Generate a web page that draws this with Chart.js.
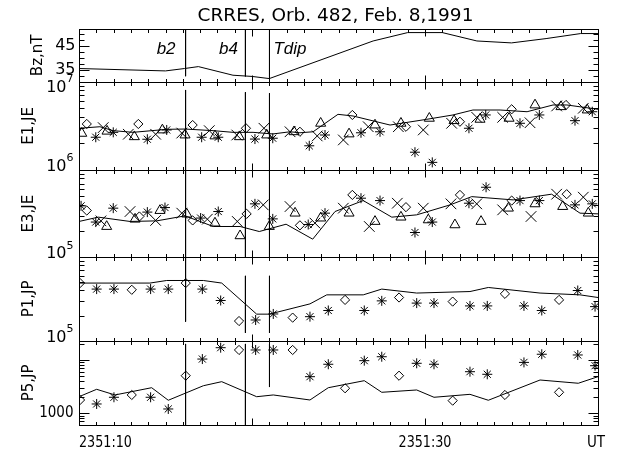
<!DOCTYPE html>
<html>
<head>
<meta charset="utf-8">
<script src="https://cdn.jsdelivr.net/npm/chart.js@4"></script>
<style>
  html, body { margin: 0; padding: 0; background: #fff; }
  canvas { display: block; }
</style>
</head>
<body>
<canvas id="chart" width="620" height="453"></canvas>
<script>
// time axis: seconds after 2351:00 UT
const xRange = [10, 40];
const xTickValues = [10, 30, 40];
const xTickLabels = ["2351:10", "2351:30", "UT"];
const chartTitle = "CRRES, Orb. 482, Feb. 8,1991";

const panelTitles = ["Bz,nT", "E1,JE", "E3,JE", "P1,JP", "P5,JP"];
const bzRange = [30, 52];
const e1Range = [1e6, 1e7];
const e3Range = [1e5, 1e6];
const p1Range = [1e5, 1e6];
const p5Range = [600, 23000];

const eventTimes = [16.16, 19.62, 21.01];
const eventNames = ["b2", "b4", "Tdip"];

// [time, value]
const bzLine = [[10,35.5],[15,34.5],[16.1,35.5],[16.9,36.3],[18.9,32.7],[20,32.2],[21,31.3],[27,47.0],[29,50.5],[31,50.5],[33,47.0],[35,46.2],[37,48.0],[39,50.1],[40,50.1]];

const e1Line = [[10,2.97e6],[11.21,3.09e6],[11.97,2.79e6],[13.12,2.67e6],[15.09,2.89e6],[16.13,2.91e6],[17.75,2.79e6],[18.9,2.67e6],[20.06,2.67e6],[21.21,2.56e6],[22.2,2.71e6],[22.77,2.64e6],[23.53,2.71e6],[24.97,4.27e6],[25.84,4.09e6],[27.98,3.23e6],[30.1,3.75e6],[31.62,4.2e6],[32.77,4.78e6],[34.34,4.78e6],[35.9,4.57e6],[37.4,5.45e6],[38.2,5.45e6],[40,4.87e6]];
const e1Diamond = [[10.45,3.32e6],[13.43,3.32e6],[16.57,3.23e6],[19.65,2.97e6],[22.77,2.71e6],[25.8,4.2e6],[28.9,3.09e6],[32.02,3.52e6],[35.01,4.87e6],[38.15,5.45e6]];
const e1Star = [[10.97,2.35e6],[11.98,2.67e6],[13.95,2.23e6],[15.07,2.84e6],[17.09,2.35e6],[18.05,2.35e6],[20.17,2.24e6],[21.2,2.29e6],[23.31,1.88e6],[24.22,2.49e6],[26.3,2.64e6],[27.4,2.71e6],[29.42,1.59e6],[30.42,1.22e6],[32.54,2.97e6],[33.51,4.2e6],[35.49,3.38e6],[36.61,4.2e6],[38.67,3.62e6],[39.67,4.57e6]];
const e1Cross = [[11.4,3.02e6],[12.85,2.54e6],[14.43,2.54e6],[15.94,2.62e6],[17.53,2.79e6],[19.12,2.49e6],[20.69,2.97e6],[22.2,2.71e6],[23.77,2.43e6],[25.28,2.19e6],[26.72,3.09e6],[28.46,3.09e6],[29.9,2.84e6],[31.54,3.38e6],[32.99,3.95e6],[34.49,3.95e6],[36.07,3.43e6],[37.61,5.31e6],[39.15,5.0e6]];
const e1Tri = [[10.16,2.6e6],[11.62,2.75e6],[13.2,2.38e6],[14.82,2.84e6],[16.13,2.49e6],[17.86,2.43e6],[19.27,2.38e6],[20.85,2.49e6],[22.43,2.71e6],[23.97,3.38e6],[25.61,2.56e6],[27.11,3.23e6],[28.61,3.38e6],[30.25,3.85e6],[31.68,3.62e6],[33.18,3.75e6],[34.86,3.85e6],[36.36,5.45e6],[37.86,5.21e6],[39.38,4.78e6]];

const e3Line = [[10,2.57e5],[11.12,2.88e5],[12.95,2.57e5],[14.49,2.61e5],[16.13,2.98e5],[17.76,2.25e5],[19.31,2.25e5],[20.42,1.97e5],[21.97,2.39e5],[23.51,1.61e5],[24.8,3.34e5],[26.43,4.46e5],[28.08,2.88e5],[29.52,3.06e5],[31.45,3.98e5],[32.7,4.95e5],[35.1,4.54e5],[37.32,5.28e5],[38.96,3.2e5],[40,3.14e5]];
const e3Diamond = [[10.45,3.43e5],[13.49,2.93e5],[16.57,2.64e5],[19.69,3.14e5],[22.77,2.32e5],[25.8,5.18e5],[28.9,3.75e5],[32.02,5.18e5],[35.01,4.46e5],[38.19,5.28e5]];
const e3Star = [[10.12,3.88e5],[10.97,2.53e5],[11.98,3.65e5],[13.95,3.29e5],[14.97,3.71e5],[17.03,2.81e5],[18.05,3.34e5],[20.17,4.09e5],[21.2,2.75e5],[23.25,2.37e5],[24.22,3.2e5],[26.3,4.75e5],[27.4,4.46e5],[29.42,1.92e5],[30.42,2.53e5],[32.54,4.16e5],[33.53,6.34e5],[35.49,4.46e5],[36.61,4.46e5],[38.67,3.98e5],[39.67,4.09e5]];
const e3Cross = [[11.27,2.61e5],[12.95,3.34e5],[14.43,2.64e5],[15.94,3.2e5],[17.42,2.73e5],[19.15,2.57e5],[20.65,3.98e5],[22.2,3.81e5],[23.64,2.46e5],[25.28,3.65e5],[26.78,2.25e5],[28.4,4.16e5],[29.9,3.65e5],[31.5,4.09e5],[32.99,4.09e5],[34.49,3.49e5],[36.13,2.93e5],[37.61,5.28e5],[39.15,4.88e5]];
const e3Tri = [[11.6,2.25e5],[13.24,2.73e5],[14.68,3.43e5],[16.23,3.12e5],[17.86,2.46e5],[19.31,1.76e5],[21.0,2.25e5],[22.49,3.2e5],[23.97,2.81e5],[25.61,3.2e5],[27.11,2.57e5],[28.61,2.88e5],[30.19,2.68e5],[31.73,2.35e5],[33.24,2.57e5],[34.82,3.65e5],[36.36,4.09e5],[37.96,3.81e5],[39.44,3.2e5]];

const p1Line = [[10,4.9e5],[14.1,4.9e5],[15.07,5.26e5],[17.19,5.26e5],[18.25,4.9e5],[20.27,2.08e5],[21.0,2.08e5],[23.35,2.76e5],[24.32,3.54e5],[26.43,3.54e5],[27.5,4.15e5],[29.52,3.72e5],[32.6,3.88e5],[33.66,4.34e5],[36.65,3.72e5],[38.96,3.54e5],[40,3.29e5]];
const p1Star = [[11.02,4.15e5],[12.02,4.15e5],[14.14,4.15e5],[15.16,4.15e5],[17.13,4.15e5],[18.19,3.03e5],[20.21,1.77e5],[21.23,2.09e5],[23.35,1.94e5],[24.41,2.3e5],[26.49,2.3e5],[27.5,3.0e5],[29.52,2.82e5],[30.52,2.82e5],[32.6,2.61e5],[33.6,2.61e5],[35.72,2.61e5],[36.75,2.3e5],[38.83,3.99e5],[39.83,2.56e5]];
const p1Diamond = [[10.06,4.9e5],[13.05,4.07e5],[16.17,4.9e5],[19.25,1.72e5],[22.35,1.89e5],[25.38,3.08e5],[28.5,3.29e5],[31.6,2.94e5],[34.62,3.64e5],[37.75,3.08e5]];

const p5Line = [[10,2040],[11.02,2810],[12.08,2200],[14.2,3010],[15.16,1750],[17.19,3280],[18.25,3910],[20.27,2040],[21.23,2200],[23.35,1770],[24.41,3010],[26.49,4080],[27.5,2470],[29.52,2730],[30.52,1990],[32.6,2260],[33.66,1750],[36.65,4200],[38.86,3650],[40,4850]];
const p5Star = [[11.02,1490],[12.02,1990],[14.14,1990],[15.16,1200],[17.13,10400],[18.19,17000],[20.21,15400],[21.23,15400],[23.35,4850],[24.41,8300],[26.49,9700],[27.5,11500],[29.52,8660],[30.52,8300],[32.6,6020],[33.6,5380],[35.72,9000],[36.75,12800],[38.83,12400],[39.83,7800]];
const p5Diamond = [[10.06,1770],[13.05,2200],[16.17,5060],[19.25,15400],[22.35,15400],[25.38,2940],[28.5,5060],[31.6,1720],[34.62,2200],[37.75,2470]];

// vertical event markers, drawn piecewise in each panel: [from, to] in panel units
const b2Spans = { yBz: [52, 32.3], yE1: [8.06e6, 1e6], yE3: [1e6, 1e5], yP1: [1e6, 1.69e5], yP5: [20000, 600] };
const b4Spans = { yBz: [52, 32.2], yE1: [7.6e6, 1e6], yE3: [1e6, 1e5], yP1: [5.98e5, 1.24e5], yP5: [20000, 600] };
const tdipSpans = { yBz: [52, 31.3], yE1: [7.4e6, 1e6], yE3: [1e6, 1e5], yP1: [5.98e5, 1.24e5], yP5: [20000, 3100] };
const eventSpans = [b2Spans, b4Spans, tdipSpans];

const yTickLabels = [
    ["yBz", 45, "45"], ["yBz", 35, "35"],
    ["yE1", 1e7, "10", "7"], ["yE1", 1e6, "10", "6"],
    ["yE3", 1e5, "10", "5"],
    ["yP1", 1e5, "10", "5"],
    ["yP5", 1000, "1000"]
];

const panelAxes = ["yBz", "yE1", "yE3", "yP1", "yP5"];

function pts(arr) {
    return arr.map(([x, y]) => ({ x, y }));
}

function lineSet(data, axis) {
    return {
        data: pts(data), yAxisID: axis, showLine: true,
        borderColor: "#000", borderWidth: 1, pointRadius: 0, tension: 0, fill: false
    };
}

function markSet(data, axis, style, r) {
    return {
        data: pts(data), yAxisID: axis, showLine: false,
        pointStyle: style, pointRadius: r, borderColor: "#000",
        backgroundColor: "rgba(0,0,0,0)", borderWidth: 1
    };
}

const datasets = [
    lineSet(bzLine, "yBz"),
    lineSet(e1Line, "yE1"),
    markSet(e1Diamond, "yE1", "rectRot", 4.6),
    markSet(e1Star, "yE1", "star", 5),
    markSet(e1Cross, "yE1", "crossRot", 7.5),
    markSet(e1Tri, "yE1", "triangle", 5.8),
    lineSet(e3Line, "yE3"),
    markSet(e3Diamond, "yE3", "rectRot", 4.6),
    markSet(e3Star, "yE3", "star", 5),
    markSet(e3Cross, "yE3", "crossRot", 7.5),
    markSet(e3Tri, "yE3", "triangle", 5.8),
    lineSet(p1Line, "yP1"),
    markSet(p1Star, "yP1", "star", 5),
    markSet(p1Diamond, "yP1", "rectRot", 4.6),
    lineSet(p5Line, "yP5"),
    markSet(p5Star, "yP5", "star", 5),
    markSet(p5Diamond, "yP5", "rectRot", 4.6)
];

eventTimes.forEach((t, i) => {
    Object.entries(eventSpans[i]).forEach(([axis, [a, b]]) => {
        datasets.push(lineSet([[t, a], [t, b]], axis));
    });
});

function hidden(extra) {
    return Object.assign({
        display: true,
        ticks: { display: false },
        grid: { display: false, drawTicks: false },
        border: { display: false }
    }, extra);
}

function yScale(type, range, size, order) {
    return hidden({
        type, min: range[0], max: range[1], position: "left",
        stack: "panels", stackWeight: size, weight: order
    });
}

function tickList(s) {
    const out = [];
    if (s.type === "linear") {
        for (let v = 30; v <= 52; v += 2.5) out.push([v, v === 35 || v === 45]);
        return out;
    }
    const lo = Math.floor(Math.log10(s.min)), hi = Math.ceil(Math.log10(s.max));
    for (let e = lo; e <= hi; e++) {
        for (let m = 1; m <= 9; m++) {
            const v = m * Math.pow(10, e);
            if (v >= s.min * 0.999 && v <= s.max * 1.001) out.push([v, m === 1]);
        }
    }
    return out;
}

function txt(c, s, x, y, font, align, sx) {
    c.save();
    c.font = font;
    c.textAlign = align;
    c.textBaseline = "middle";
    c.translate(x, y);
    c.scale(sx, 1);
    c.fillText(s, 0, 0);
    c.restore();
}

const idlFrame = {
    id: "idlFrame",
    afterDatasetsDraw(chart) {
        const c = chart.ctx;
        const xs = chart.scales.x;
        const left = chart.chartArea.left, right = chart.chartArea.right;
        const px = v => Math.round(v) + 0.5;
        const seg = (x1, y1, x2, y2) => {
            c.beginPath();
            c.moveTo(x1, y1);
            c.lineTo(x2, y2);
            c.stroke();
        };
        c.save();
        c.strokeStyle = "#000";
        c.fillStyle = "#000";
        c.lineWidth = 1;

        panelAxes.forEach((id, k) => {
            const s = chart.scales[id];
            const top = px(s.top), bot = px(s.bottom);
            c.strokeRect(px(left), top, px(right) - px(left), bot - top);
            for (let t = xRange[0]; t <= xRange[1]; t++) {
                const x = px(xs.getPixelForValue(t));
                const len = t % 10 === 0 ? 7 : 3.5;
                seg(x, top, x, top + len);
                seg(x, bot, x, bot - len);
            }
            tickList(s).forEach(([v, major]) => {
                const y = px(s.getPixelForValue(v));
                const len = major ? 10 : 5;
                seg(px(left), y, px(left) + len, y);
                seg(px(right), y, px(right) - len, y);
            });
            // panel title, rotated
            c.save();
            c.translate(k === 0 ? left - 41 : left - 50, (s.top + s.bottom) / 2);
            c.rotate(-Math.PI / 2);
            c.font = '15px "DejaVu Sans"';
            c.textAlign = "center";
            c.textBaseline = "middle";
            c.fillText(panelTitles[k], 0, 0);
            c.restore();
        });

        // y tick labels
        const xr = left - 5.5;
        yTickLabels.forEach(([id, v, base, sup]) => {
            const s = chart.scales[id];
            const y = s.getPixelForValue(v);
            if (!sup) {
                if (base.length > 2) txt(c, base, xr, y, '15px "DejaVu Sans"', "right", 0.9);
                else txt(c, base, xr + 2, y, '16px "DejaVu Sans"', "right", 1);
                return;
            }
            const dy = Math.abs(y - s.top) < 1 ? 6 : -3;
            c.font = '11px "DejaVu Sans"';
            const w2 = c.measureText(sup).width;
            txt(c, sup, xr - w2, y + dy - 8.5, '11px "DejaVu Sans"', "left", 1);
            txt(c, base, xr - w2, y + dy, '16px "DejaVu Sans"', "right", 1);
        });

        // x tick labels
        const yb = chart.scales.yP5.bottom + 18;
        xTickValues.forEach((v, i) => {
            const x = xs.getPixelForValue(v);
            if (i === 0) txt(c, xTickLabels[i], x, yb, '15px "DejaVu Sans"', "left", 0.85);
            else if (i === xTickValues.length - 1) txt(c, xTickLabels[i], x - 2, yb, '15px "DejaVu Sans"', "center", 0.9);
            else txt(c, xTickLabels[i], x, yb, '15px "DejaVu Sans"', "center", 0.85);
        });

        // title
        c.font = '18.5px "DejaVu Sans"';
        c.textAlign = "center";
        c.textBaseline = "alphabetic";
        c.fillText(chartTitle, (left + right) / 2 - 3, 20.5);

        // event names
        c.font = 'italic 17px "Liberation Sans"';
        eventTimes.forEach((t, i) => {
            const x = xs.getPixelForValue(t);
            if (i < 2) {
                c.textAlign = "right";
                c.fillText(eventNames[i], x - (i === 0 ? 10 : 7.5), 53.5);
            } else {
                c.textAlign = "left";
                c.fillText(eventNames[i], x + 4, 53.5);
            }
        });
        c.restore();
    }
};

const chart = new Chart(document.getElementById("chart"), {
    type: "scatter",
    data: { datasets },
    options: {
        responsive: false,
        animation: false,
        devicePixelRatio: 1,
        layout: { padding: { left: 79, right: 22, top: 29, bottom: 28 } },
        plugins: { legend: { display: false }, tooltip: { enabled: false } },
        scales: {
            x: hidden({ type: "linear", min: xRange[0], max: xRange[1], position: "bottom" }),
            yP5: yScale("logarithmic", p5Range, 84.3, 1),
            yP1: yScale("logarithmic", p1Range, 83.5, 2),
            yE3: yScale("logarithmic", e3Range, 87.2, 3),
            yE1: yScale("logarithmic", e1Range, 88.3, 4),
            yBz: yScale("linear", bzRange, 52.7, 5)
        }
    },
    plugins: [idlFrame]
});
</script>
</body>
</html>
